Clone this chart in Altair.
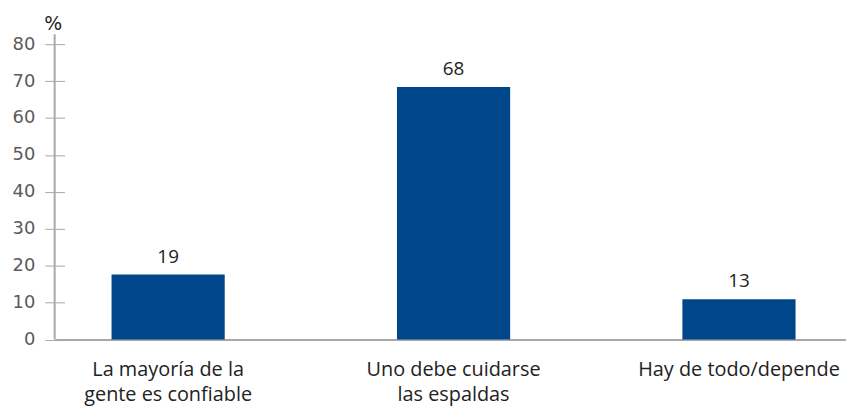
import altair as alt
import pandas as pd

categories = ["La mayoría de la|gente es confiable", "Uno debe cuidarse|las espaldas", "Hay de todo/depende"]
bar_values = [17.6, 68.4, 10.9]
label_values = ["19", "68", "13"]
y_ticks = [0, 10, 20, 30, 40, 50, 60, 70, 80]
axis_line = [0, 82.7]

df = pd.DataFrame({"cat": categories, "value": bar_values, "label": label_values})
df_line = pd.DataFrame({"value": [axis_line[0]], "y1": [axis_line[1]]})

BAR = "#00468b"
AXIS = "#a8a8ab"
LABEL_FONT = "Open Sans"

x_scale = alt.Scale(paddingInner=0.6035, paddingOuter=0.188, align=0.53)
x_axis = alt.Axis(
    title=None, labelAngle=0, ticks=False, domain=True, domainColor=AXIS, domainWidth=2,
    labelExpr="split(datum.label, '|')", labelFont=LABEL_FONT, labelFontSize=20,
    labelColor="#222222", labelLineHeight=25, labelPadding=20, labelAlign="center",
    labelLimit=300, grid=False,
)
y_scale = alt.Scale(domain=[0, 80], nice=False, zero=True)
y_axis = alt.Axis(
    values=y_ticks, grid=False, domain=False, tickSize=20, offset=-10, tickColor=AXIS,
    tickWidth=1, labelFont="DejaVu Sans", labelFontSize=18, labelColor="#5a5a5a",
    labelPadding=10, labelOverlap=False, labelFlush=False,
    title="%", titleAngle=0, titleFont="DejaVu Sans", titleFontSize=19,
    titleFontWeight="normal", titleColor="#222222", titleAlign="center",
    titleBaseline="alphabetic", titleX=-12, titleY=-15,
)

bars = alt.Chart(df).mark_bar(color=BAR).encode(
    x=alt.X("cat:N", sort=categories, scale=x_scale, axis=x_axis),
    y=alt.Y("value:Q", scale=y_scale, axis=y_axis),
)

texts = alt.Chart(df).mark_text(
    font=LABEL_FONT, fontSize=19, color="#222222", baseline="alphabetic", dy=-12
).encode(
    x=alt.X("cat:N", sort=categories, scale=x_scale, axis=x_axis),
    y=alt.Y("value:Q", scale=y_scale, axis=y_axis),
    text="label:N",
)

yline = alt.Chart(df_line).mark_rule(color=AXIS, strokeWidth=2).encode(
    x=alt.value(0),
    y=alt.Y("value:Q", scale=y_scale, axis=y_axis),
    y2="y1:Q",
)

chart = alt.layer(bars, texts, yline).properties(
    width=797, height=297.5, background="white",
    padding={"left": 47, "top": 35, "right": 0, "bottom": 67},
    autosize=alt.AutoSizeParams(type="none"),
).configure_view(stroke=None)

chart.save("out.html", embed_options={"renderer": "svg", "actions": False})
